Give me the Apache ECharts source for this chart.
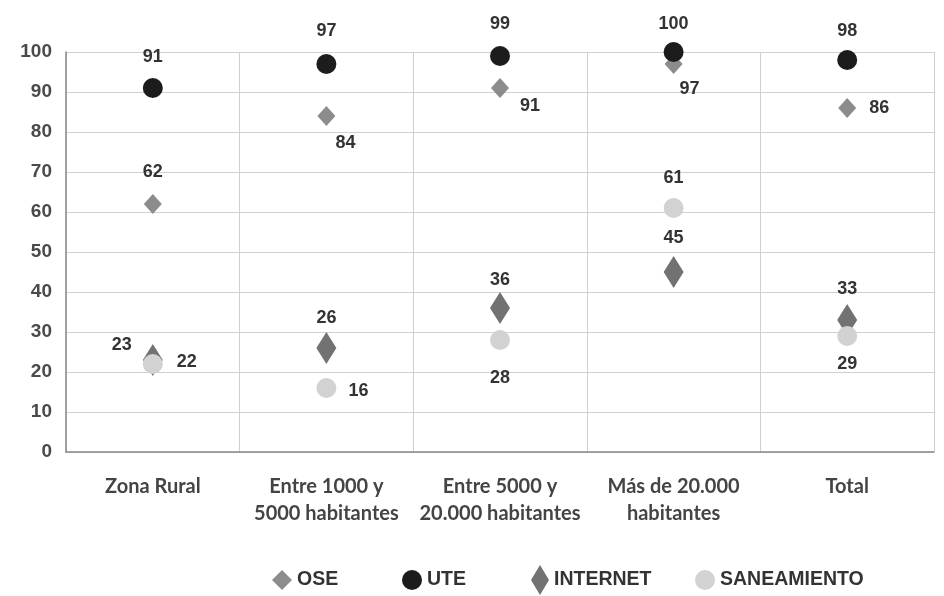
<!DOCTYPE html>
<html><head><meta charset="utf-8">
<script src="https://cdn.jsdelivr.net/npm/echarts@6/dist/echarts.min.js"></script>
<style>html,body{margin:0;padding:0;background:#fff}#c{width:944px;height:596px}</style>
</head><body><div id="c"></div>
<script>
const categories = ['Zona Rural', 'Entre 1000 y\n5000 habitantes', 'Entre 5000 y\n20.000 habitantes', 'Más de 20.000\nhabitantes', 'Total'];
const seriesNames = ['OSE', 'UTE', 'INTERNET', 'SANEAMIENTO'];
const oseValues = [62, 84, 91, 97, 86];
const uteValues = [91, 97, 99, 100, 98];
const internetValues = [23, 26, 36, 45, 33];
const saneamientoValues = [22, 16, 28, 61, 29];
const yTicks = { min: 0, max: 100, interval: 10 };

// label placement (style only)
const labelOffsets = {
  OSE: [[0,-32],[19,27],[30,18],[16,25],[32,0]],
  UTE: [[0,-31],[0,-33],[0,-32],[0,-28],[0,-29]],
  INTERNET: [[-31,-15],[0,-30],[0,-28],[0,-34],[0,-31]],
  SANEAMIENTO: [[34,-2],[32,3],[0,38],[0,-30],[0,28]]
};
const styles = {
  OSE: { symbol: 'diamond', size: [18,20], color: '#8c8c8c', legendLeft: 267, legendSize: [20,20] },
  UTE: { symbol: 'circle', size: 20, color: '#1c1c1c', legendLeft: 397, legendSize: [20,20] },
  INTERNET: { symbol: 'diamond', size: [20,32], color: '#727272', legendLeft: 526, legendSize: [18,30] },
  SANEAMIENTO: { symbol: 'circle', size: 20, color: '#d2d2d2', legendLeft: 690, legendSize: [20,20] }
};
const valuesByName = { OSE: oseValues, UTE: uteValues, INTERNET: internetValues, SANEAMIENTO: saneamientoValues };
const boldFont = 'Liberation Sans, Arial, sans-serif';

function mkSeries(name) {
  const st = styles[name];
  return {
    name, type: 'scatter', symbol: st.symbol, symbolSize: st.size,
    itemStyle: { color: st.color, opacity: 1 },
    data: valuesByName[name].map((v, i) => ({
      value: v,
      label: { show: true, position: 'inside', offset: labelOffsets[name][i],
        formatter: '{c}', color: '#333', fontWeight: 'bold', fontSize: 18,
        fontFamily: boldFont }
    }))
  };
}

const legends = seriesNames.map(name => {
  const st = styles[name];
  return {
    data: [name], left: st.legendLeft, top: 579 - st.legendSize[1] / 2 - 4,
    itemWidth: st.legendSize[0], itemHeight: st.legendSize[1], itemGap: 0,
    selectedMode: false,
    textStyle: { color: '#333', fontWeight: 'bold', fontSize: 19.5, fontFamily: boldFont }
  };
});

const chart = echarts.init(document.getElementById('c'));
chart.setOption({
  animation: false,
  backgroundColor: '#fff',
  grid: { left: 66, right: 10, top: 52, bottom: 144 },
  legend: legends,
  xAxis: {
    type: 'category', data: categories, boundaryGap: true,
    axisLine: { lineStyle: { color: '#888', width: 1.5 } },
    axisTick: { show: false },
    splitLine: { show: true, lineStyle: { color: '#cfcfcf', width: 1 } },
    axisLabel: { margin: 21, color: '#444', fontSize: 20, lineHeight: 27, fontWeight: 'bold',
      fontFamily: 'Lato, sans-serif', interval: 0 }
  },
  yAxis: {
    type: 'value', min: yTicks.min, max: yTicks.max, interval: yTicks.interval,
    axisLine: { show: true, lineStyle: { color: '#888', width: 1.5 } },
    axisTick: { show: false },
    splitLine: { lineStyle: { color: '#d0d0d0', width: 1 } },
    axisLabel: { margin: 14, color: '#4a4a4a', fontSize: 19, fontWeight: 'bold',
      fontFamily: boldFont }
  },
  series: seriesNames.map(mkSeries)
});
</script></body></html>
